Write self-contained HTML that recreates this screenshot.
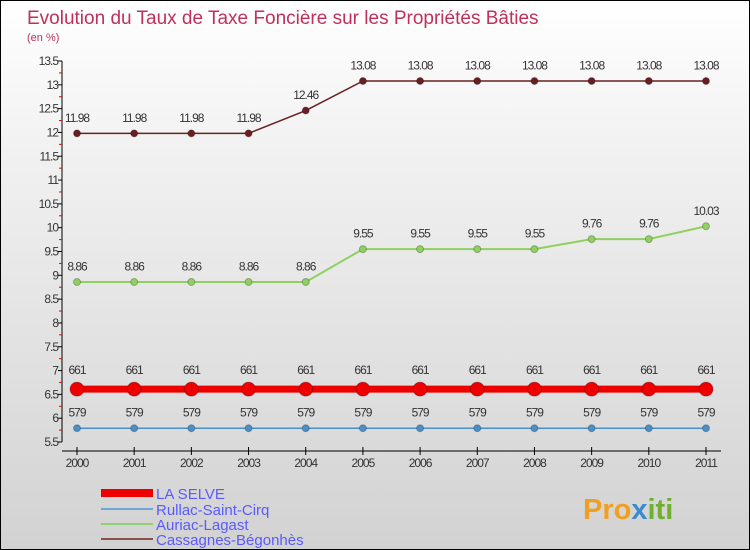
<!DOCTYPE html>
<html><head><meta charset="utf-8"><style>
body{margin:0}
#c{width:750px;height:550px;position:relative;box-sizing:border-box;border:1px solid #000;background:linear-gradient(#ffffff,#f0f0f0 30%,#d2d2d2);font-family:"Liberation Sans",sans-serif;overflow:hidden}
svg text{font-family:"Liberation Sans",sans-serif}
</style></head><body>
<div id="c">
<svg id="s" width="750" height="550">
<text x="26" y="23" font-size="19" fill="#c0305a">Evolution du Taux de Taxe Foncière sur les Propriétés Bâties</text>
<text x="26" y="40" font-size="11" fill="#c0305a">(en %)</text>
<g id="g"></g>
<g>
<rect x="100" y="488" width="52" height="8" fill="#e00"/>
<text x="155" y="498" font-size="15" fill="#5a5aff">LA SELVE</text>
<rect x="100" y="507" width="52" height="2" fill="#6fa8d8"/>
<text x="155" y="514" font-size="15" fill="#5a5aff">Rullac-Saint-Cirq</text>
<rect x="100" y="522" width="52" height="2" fill="#8fd070"/>
<text x="155" y="529" font-size="15" fill="#5a5aff">Auriac-Lagast</text>
<rect x="100" y="537" width="52" height="2" fill="#8a5050"/>
<text x="155" y="544" font-size="15" fill="#5a5aff">Cassagnes-Bégonhès</text>
</g>
<text x="582" y="518" font-size="29" font-weight="bold" fill="#f0a020">Pro<tspan fill="#3a8ad0">x</tspan><tspan fill="#70b030">iti</tspan></text>
</svg>
</div>
<script>
const years=["2000","2001","2002","2003","2004","2005","2006","2007","2008","2009","2010","2011"];
const yTicks=[5.5,6,6.5,7,7.5,8,8.5,9,9.5,10,10.5,11,11.5,12,12.5,13,13.5];
const laSelve=[6.61,6.61,6.61,6.61,6.61,6.61,6.61,6.61,6.61,6.61,6.61,6.61];
const rullac=[5.79,5.79,5.79,5.79,5.79,5.79,5.79,5.79,5.79,5.79,5.79,5.79];
const auriac=[8.86,8.86,8.86,8.86,8.86,9.55,9.55,9.55,9.55,9.76,9.76,10.03];
const cassagnes=[11.98,11.98,11.98,11.98,12.46,13.08,13.08,13.08,13.08,13.08,13.08,13.08];
const NS="http://www.w3.org/2000/svg";
const g=document.getElementById('g');
const X=i=>76+i*(705-76)/11;
const Y=v=>441-(v-5.5)*(441-60)/8;
function mk(t,a){const e=document.createElementNS(NS,t);for(const k in a)e.setAttribute(k,a[k]);g.appendChild(e);return e;}
let e=mk('line',{x1:61,y1:60,x2:61,y2:441,stroke:'#000'});


e=mk('line',{x1:61,y1:450,x2:720,y2:450,stroke:'#000'});


yTicks.forEach((v,i)=>{
 const t=mk('line',{x1:57,y1:Y(v),x2:61,y2:Y(v),stroke:'#000'});
 
 
 if(i<yTicks.length-1){const m=mk('line',{x1:58,y1:Y(v+0.25),x2:61,y2:Y(v+0.25),stroke:'#e00'});
 
 }
 const l=mk('text',{x:57,y:Y(v)+4,'font-size':12,'text-anchor':'end',fill:'#333','letter-spacing':'-1'});
 l.textContent=String(v);
 
 
});
years.forEach((y,i)=>{
 const t=mk('line',{x1:X(i),y1:446,x2:X(i),y2:454,stroke:'#000'});
 
 
 const l=mk('text',{x:X(i),y:466,'font-size':12,'text-anchor':'middle',fill:'#333','letter-spacing':'-1'});
 l.textContent=y;
 
 
});
function series(d,name,col,w,r,fmt){
 const p=mk('polyline',{points:d.map((v,i)=>X(i)+','+Y(v)).join(' '),fill:'none',stroke:col,'stroke-width':w});
 
 
 d.forEach((v,i)=>{
  const c=mk('circle',{cx:X(i),cy:Y(v),r:r,fill:col,stroke:'rgba(0,0,0,0.25)'});
  
  
  const t=mk('text',{x:X(i),y:Y(v)-(r+8),'font-size':12,'text-anchor':'middle',fill:'#333','letter-spacing':'-1'});
  t.textContent=fmt(v);
  
  
 });
}
const f=v=>String(v).replace('.','');
const f2=v=>String(v);
series(rullac,'rullac','#4a90c8',1.5,3.5,f);
series(auriac,'auriac','#8fd060',2,3.5,f2);
series(cassagnes,'cassagnes','#6a1e22',1.5,3.5,f2);
series(laSelve,'la-selve','#ee0000',7,7,f);
</script>
</body></html>
